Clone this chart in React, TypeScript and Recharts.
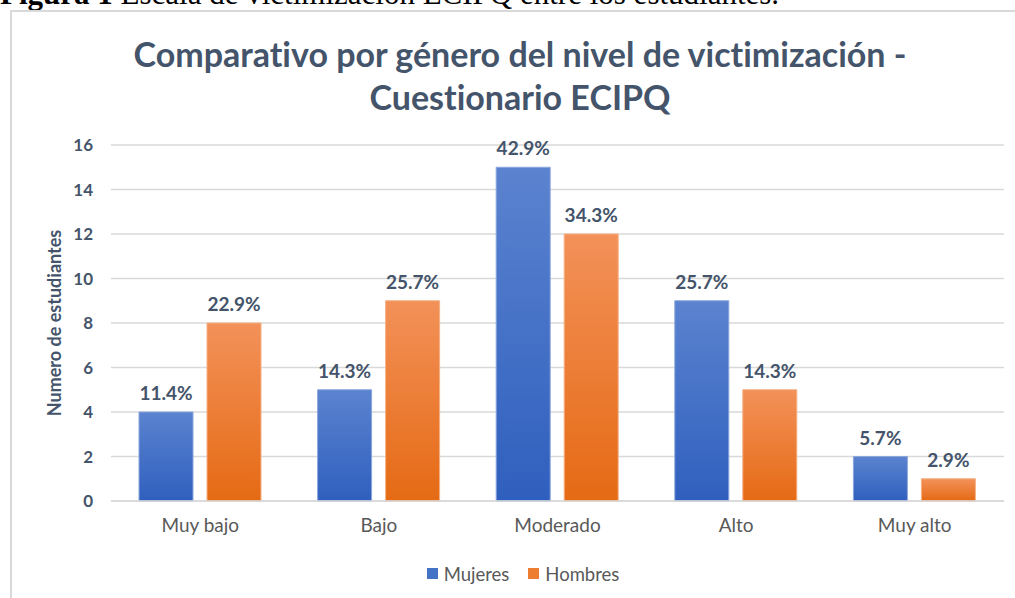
import React from 'react'
import { BarChart, Bar, XAxis, YAxis, CartesianGrid, LabelList } from 'recharts'

const categories = ['Muy bajo', 'Bajo', 'Moderado', 'Alto', 'Muy alto']
const mujeres = [4, 5, 15, 9, 2]
const hombres = [8, 9, 12, 5, 1]
const mujeresPct = [11.4, 14.3, 42.9, 25.7, 5.7]
const hombresPct = [22.9, 25.7, 34.3, 14.3, 2.9]
const yTicks = [0, 2, 4, 6, 8, 10, 12, 14, 16]

const data = categories.map((c, i) => ({
  name: c,
  mujeres: mujeres[i],
  hombres: hombres[i],
  mujeresPct: mujeresPct[i],
  hombresPct: hombresPct[i],
}))

const FONT = 'Lato, "Open Sans", sans-serif'
const DARK = '#44546a'
const GREY = '#595959'
const GRID = '#d9d9d9'

const pct = (v: any) => `${Number(v).toFixed(1)}%`

const legendItems = [
  { label: 'Mujeres', color: '#4472c4' },
  { label: 'Hombres', color: '#ed7d31' },
]

export default function App() {
  return (
    <div style={{ position: 'absolute', left: 0, top: 0, width: 1015, height: 598, overflow: 'hidden', background: '#fff', fontVariantLigatures: 'none' }}>
      {/* caption cut off at the top of the page */}
      <div
        style={{
          position: 'absolute', left: 0, top: -24, whiteSpace: 'nowrap',
          fontFamily: '"Liberation Serif", "Times New Roman", serif', fontSize: 31, color: '#000',
        }}
      >
        <b>Figura 1</b> Escala de victimización ECIPQ entre los estudiantes.
      </div>
      {/* chart frame */}
      <div
        style={{
          position: 'absolute', left: 10, top: 10, width: 1020, height: 600,
          borderLeft: `2px solid ${GRID}`, borderTop: `2px solid ${GRID}`, boxSizing: 'border-box',
        }}
      />
      <div
        style={{
          position: 'absolute', left: 0, top: 32, width: 1040, textAlign: 'center',
          fontFamily: FONT, fontWeight: 700, fontSize: 34, lineHeight: '43px', color: DARK,
        }}
      >
        Comparativo por género del nivel de victimización -<br />Cuestionario ECIPQ
      </div>
      <div style={{ position: 'absolute', left: 0, top: 0 }}>
        <BarChart
          width={1015}
          height={598}
          data={data}
          margin={{ top: 145, right: 11, left: 0, bottom: 67 }}
          barCategoryGap={28}
          barGap={14}
        >
          <defs>
            <linearGradient id="gBlue" x1="0" y1="0" x2="0" y2="1">
              <stop offset="0%" stopColor="#5b83cf" />
              <stop offset="100%" stopColor="#2f5fbe" />
            </linearGradient>
            <linearGradient id="gOrange" x1="0" y1="0" x2="0" y2="1">
              <stop offset="0%" stopColor="#f39159" />
              <stop offset="100%" stopColor="#e56a14" />
            </linearGradient>
          </defs>
          <CartesianGrid vertical={false} stroke={GRID} strokeWidth={1.5} />
          <XAxis
            dataKey="name"
            axisLine={{ stroke: GRID, strokeWidth: 1.5 }}
            tickLine={false}
            tickSize={0}
            tickMargin={18}
            height={30}
            tick={{ fill: GREY, fontSize: 19, fontFamily: FONT }}
          />
          <YAxis
            width={111}
            domain={[0, 16]}
            ticks={yTicks}
            axisLine={false}
            tickLine={false}
            tickSize={0}
            tickMargin={18}
            tick={{ fill: DARK, fontSize: 17, fontWeight: 700, fontFamily: FONT }}
            label={{
              value: 'Numero de estudiantes', angle: -90, position: 'insideLeft', offset: 55,
              style: { fill: DARK, fontSize: 18, fontWeight: 700, fontFamily: FONT, textAnchor: 'middle' },
            }}
          />
          <Bar dataKey="mujeres" name="Mujeres" fill="url(#gBlue)" stroke="#8aa6dc" strokeWidth={1} isAnimationActive={false}>
            <LabelList dataKey="mujeresPct" position="top" offset={12} formatter={pct}
              style={{ fill: DARK, fontSize: 19, fontWeight: 700, fontFamily: FONT }} />
          </Bar>
          <Bar dataKey="hombres" name="Hombres" fill="url(#gOrange)" stroke="#f5b085" strokeWidth={1} isAnimationActive={false}>
            <LabelList dataKey="hombresPct" position="top" offset={12} formatter={pct}
              style={{ fill: DARK, fontSize: 19, fontWeight: 700, fontFamily: FONT }} />
          </Bar>
        </BarChart>
      </div>
      <div
        style={{
          position: 'absolute', left: 0, top: 561, width: 1046, textAlign: 'center',
          fontFamily: FONT, fontSize: 18.5, color: GREY,
        }}
      >
        {legendItems.map((it, i) => (
          <span key={it.label} style={{ marginLeft: i === 0 ? 0 : 19, display: 'inline-flex', alignItems: 'center' }}>
            <span style={{ display: 'inline-block', width: 11, height: 11, background: it.color, marginRight: 6 }} />
            {it.label}
          </span>
        ))}
      </div>
    </div>
  )
}
